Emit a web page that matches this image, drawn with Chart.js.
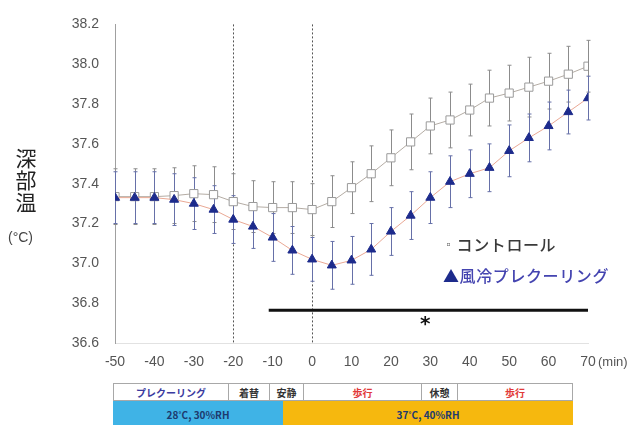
<!DOCTYPE html>
<html>
<head>
<meta charset="utf-8">
<script src="https://cdn.jsdelivr.net/npm/chart.js@4/dist/chart.umd.min.js"></script>
<style>
  html, body { margin: 0; padding: 0; background: #fff; }
  #wrap { position: relative; width: 638px; height: 425px; overflow: hidden; background: #fff; }
  #chart { position: absolute; left: 0; top: 0; }
  .txt { position: absolute; white-space: nowrap; }
  #ytitle { left: 14px; top: 146px; width: 24px; font: 21px "Noto Sans CJK JP"; line-height: 22px; color: #222; text-align: center; }
  #yunit { left: 8px; top: 229px; font: 14px "Liberation Sans"; color: #444; }
  #xunit { left: 598px; top: 354px; font: 13px "Liberation Sans"; color: #555; }
  .leg { left: 443px; font: 500 16px "Noto Sans CJK JP"; letter-spacing: 0.6px; }
  #leg1 { top: 232px; color: #3a3a3a; }
  #leg2 { top: 263px; color: #4444b0; }
  #leg2 .mk { color: #1d2b8c; }
  #leg1 .mk { font-size: 11px; vertical-align: 2px; margin-right: 2px; color: #666; }
  #star { left: 420px; top: 311px; font: bold 20px "DejaVu Sans"; color: #111; }
  #tbl { position: absolute; left: 113px; top: 383px; width: 460px; }
  .row { position: relative; height: 18px; }
  .cell { position: absolute; top: 0; height: 100%; box-sizing: border-box; text-align: center;
          font: bold 10px "Noto Sans CJK JP"; line-height: 17px; }
  #r1 .cell { border: 1px solid #a8a8a8; border-left: none; background: #fff; color: #333; }
  #r1 .cell:first-child { border-left: 1px solid #a8a8a8; }
  #r2 { height: 30px; }
  #r2 .cell { line-height: 28px; color: #1d3a6e; }
</style>
</head>
<body>
<div id="wrap">
  <canvas id="chart" width="638" height="378"></canvas>
  <div class="txt" id="ytitle">深<br>部<br>温</div>
  <div class="txt" id="yunit">(°C)</div>
  <div class="txt" id="xunit">(min)</div>
  <div class="txt leg" id="leg1"><span class="mk">▫</span>コントロール</div>
  <div class="txt leg" id="leg2"><span class="mk">▲</span>風冷プレクーリング</div>
  <div class="txt" id="star">*</div>
  <div id="tbl">
    <div class="row" id="r1"></div>
    <div class="row" id="r2"></div>
  </div>
</div>
<script>
// Time after start of exercise (min)
const minutes = [-50,-45,-40,-35,-30,-25,-20,-15,-10,-5,0,5,10,15,20,25,30,35,40,45,50,55,60,65,70];

// Core temperature, mean and SD (°C)
const controlMean = [37.335,37.335,37.335,37.34,37.35,37.345,37.31,37.285,37.28,37.28,37.27,37.31,37.38,37.45,37.53,37.61,37.69,37.72,37.77,37.83,37.855,37.885,37.915,37.95,37.99];
const controlSD   = [0.14,0.14,0.14,0.14,0.14,0.14,0.14,0.13,0.13,0.13,0.13,0.13,0.13,0.14,0.14,0.14,0.14,0.14,0.13,0.14,0.14,0.15,0.14,0.14,0.13];
const coolMean    = [37.33,37.33,37.33,37.32,37.30,37.27,37.22,37.185,37.13,37.065,37.02,36.99,37.015,37.07,37.16,37.24,37.33,37.41,37.45,37.48,37.565,37.63,37.69,37.76,37.83];
const coolSD      = [0.13,0.13,0.13,0.13,0.13,0.12,0.12,0.11,0.12,0.12,0.11,0.12,0.12,0.13,0.12,0.12,0.13,0.13,0.12,0.12,0.13,0.12,0.12,0.11,0.11];

// Axis ticks
const yTicks = [36.6,36.8,37.0,37.2,37.4,37.6,37.8,38.0,38.2];
const xTicks = [-50,-40,-30,-20,-10,0,10,20,30,40,50,60,70];

// Phase boundaries (dashed lines) and significant period
const phaseLines = [-20, 0];
const sigFrom = -11, sigTo = 70, sigLevel = 36.765;

// Protocol table
const phaseLabels = ['プレクーリング','着替','安静','歩行','休憩','歩行'];
const phaseColors = ['#3b3ba0','#333','#333','#e23a3a','#333','#e23a3a'];
const phaseWidths = [116,41,34,118,36,115];
const envLabels = ['28˚C, 30%RH','37˚C, 40%RH'];
const envColors = ['#3fb3e6','#f6b80e'];
const envWidths = [170,290];

function buildRow(id, labels, widths, styler) {
  const row = document.getElementById(id);
  let x = 0;
  labels.forEach((t, i) => {
    const c = document.createElement('div');
    c.className = 'cell';
    c.style.left = x + 'px';
    c.style.width = widths[i] + 'px';
    c.textContent = t;
    styler(c, i);
    row.appendChild(c);
    x += widths[i];
  });
}
buildRow('r1', phaseLabels, phaseWidths, (c, i) => { c.style.color = phaseColors[i]; });
buildRow('r2', envLabels, envWidths, (c, i) => { c.style.background = envColors[i]; });

const toPoints = arr => minutes.map((m, i) => ({ x: m, y: arr[i] }));

const overlay = {
  id: 'overlay',
  beforeDatasetsDraw(chart) {
    const { ctx, scales: { x, y }, chartArea } = chart;
    ctx.save();
    // dashed phase boundaries
    ctx.strokeStyle = '#555';
    ctx.lineWidth = 1;
    ctx.setLineDash([2, 2]);
    phaseLines.forEach(v => {
      const px = Math.round(x.getPixelForValue(v)) + 0.5;
      ctx.beginPath();
      ctx.moveTo(px, chartArea.top);
      ctx.lineTo(px, chartArea.bottom);
      ctx.stroke();
    });
    ctx.setLineDash([]);
    // significance bar
    ctx.strokeStyle = '#111';
    ctx.lineWidth = 3;
    ctx.beginPath();
    ctx.moveTo(x.getPixelForValue(sigFrom), y.getPixelForValue(sigLevel));
    ctx.lineTo(x.getPixelForValue(sigTo), y.getPixelForValue(sigLevel));
    ctx.stroke();
    // error bars
    const bars = [
      { mean: controlMean, sd: controlSD, color: '#8c8c8c' },
      { mean: coolMean, sd: coolSD, color: '#6670a8' }
    ];
    ctx.lineWidth = 1;
    bars.forEach(b => {
      ctx.strokeStyle = b.color;
      minutes.forEach((m, i) => {
        const px = Math.round(x.getPixelForValue(m)) + 0.5;
        const top = y.getPixelForValue(b.mean[i] + b.sd[i]);
        const bot = y.getPixelForValue(b.mean[i] - b.sd[i]);
        ctx.beginPath();
        ctx.moveTo(px, top); ctx.lineTo(px, bot);
        ctx.moveTo(px - 2, top); ctx.lineTo(px + 2, top);
        ctx.moveTo(px - 2, bot); ctx.lineTo(px + 2, bot);
        ctx.stroke();
      });
    });
    ctx.restore();
  }
};

new Chart(document.getElementById('chart'), {
  type: 'line',
  data: {
    datasets: [
      {
        label: '風冷プレクーリング',
        data: toPoints(coolMean),
        borderColor: '#e9a894',
        borderWidth: 1,
        pointStyle: 'triangle',
        pointRadius: 5.2,
        pointBackgroundColor: '#1d2b8c',
        pointBorderColor: '#1d2b8c',
        pointBorderWidth: 1,
        tension: 0
      },
      {
        label: 'コントロール',
        data: toPoints(controlMean),
        borderColor: '#b4aca4',
        borderWidth: 1,
        pointStyle: 'rect',
        pointRadius: 5.8,
        pointBackgroundColor: '#ffffff',
        pointBorderColor: '#9a9a9a',
        pointBorderWidth: 1,
        tension: 0
      }
    ]
  },
  options: {
    responsive: false,
    animation: false,
    layout: { padding: { left: 0, right: 50, top: 22, bottom: 0 } },
    plugins: { legend: { display: false }, tooltip: { enabled: false } },
    scales: {
      x: {
        type: 'linear',
        min: -50, max: 70,
        afterBuildTicks: s => { s.ticks = xTicks.map(v => ({ value: v })); },
        afterFit: s => { s.height = 35; },
        ticks: { color: '#555', padding: 11, font: { family: 'Liberation Sans', size: 14 } },
        grid: { display: false, drawTicks: false },
        border: { display: true, color: '#e2e2e2' }
      },
      y: {
        min: 36.6, max: 38.2,
        afterBuildTicks: s => { s.ticks = yTicks.map(v => ({ value: v })); },
        afterFit: s => { s.width = 115; },
        ticks: {
          color: '#555', padding: 16,
          font: { family: 'Liberation Sans', size: 14 },
          callback: v => Number(v).toFixed(1)
        },
        grid: { display: false, drawTicks: false },
        border: { display: true, color: '#a0a0a0' }
      }
    }
  },
  plugins: [overlay]
});
</script>
</body>
</html>
